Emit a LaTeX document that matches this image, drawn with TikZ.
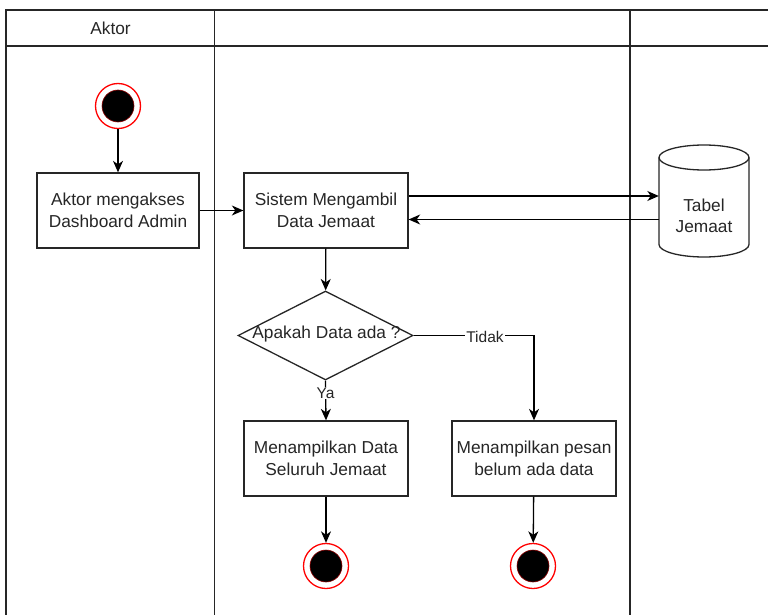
\documentclass[tikz,border=0pt]{standalone}
\usepackage{fontspec}
\setmainfont{Liberation Sans}
\usetikzlibrary{arrows.meta,shapes.geometric,calc}

\tikzset{
  lane/.style={line width=1.4pt, draw=black!85},
  act/.style={draw=black!85, line width=1.3pt, fill=white, minimum width=164pt,
    minimum height=75pt, align=center, inner sep=0pt, text=black!85,
    font=\fontsize{17.3}{21.5}\selectfont},
  final/.style={circle, draw=red, line width=1.3pt, fill=white, minimum size=45pt,
    inner sep=0pt,
    path picture={\fill[black, draw=red!55!black, line width=0.6pt]
      (path picture bounding box.center) circle (16pt);}},
  flow/.style={draw=black, line width=1.3pt,
    -{Stealth[length=11.5pt, width=10pt, inset=3.5pt]}},
  guard/.style={fill=white, inner sep=1pt, text=black!85,
    font=\fontsize{15.5}{18}\selectfont},
  txt/.style={text=black!85, align=center, font=\fontsize{17.3}{21.5}\selectfont}
}

\begin{document}
\begin{tikzpicture}[x=1pt, y=-1pt]
  \useasboundingbox (0,0) rectangle (768,615);
  \clip (0,0) rectangle (768,615);

  % swimlane frame: header row and three lanes
  \draw[lane] (6,10) rectangle (800,650);
  \draw[lane] (6,46) -- (800,46);
  \draw[lane] (214.5,10) -- (214.5,650);
  \draw[lane] (630,10) -- (630,650);
  \node[txt] (hdr) at (110.5,28) {Aktor};

  % activities
  \node[final] (start) at (118,106) {};
  \node[act, minimum width=162pt] (aktor) at (118,210.5) {Aktor mengakses\\Dashboard Admin};
  \node[act] (sistem) at (326,210.5) {Sistem Mengambil\\Data Jemaat};
  \node[diamond, draw=black!85, line width=1.3pt, minimum width=175pt,
        minimum height=89pt, inner sep=0pt] (cek) at (325.5,335.5) {};
  \node[txt] (cektxt) at (326.5,334) {Apakah Data ada ?};
  \node[act] (tampil) at (326,458.5) {Menampilkan Data\\Seluruh Jemaat};
  \node[act] (pesan) at (534,458.5) {Menampilkan pesan\\belum ada data};
  \node[final] (end1) at (326,566) {};
  \node[final] (end2) at (533,566) {};

  % data store cylinder
  \node[minimum width=90pt, minimum height=112pt, inner sep=0pt] (db) at (704,201) {};
  \draw[draw=black!85, line width=1.3pt, fill=white]
    (659,157.5) -- (659,244.5)
    .. controls (659,251.4) and (679.15,257) .. (704,257)
    .. controls (728.85,257) and (749,251.4) .. (749,244.5)
    -- (749,157.5);
  \draw[draw=black!85, line width=1.3pt] (704,157.5) ellipse (45pt and 12.5pt);
  \node[txt] (dbtxt) at (704,216) {Tabel\\Jemaat};

  % control flow
  \draw[flow] (start) -- (aktor);
  \draw[flow] (aktor) -- (sistem);
  \draw[flow] ([yshift=14.5pt]sistem.east) -- ([yshift=14.5pt]sistem.east -| db.west);
  \draw[flow] ([yshift=-9pt]sistem.east -| db.west) -- ([yshift=-9pt]sistem.east);
  \draw[flow] (sistem) -- (cek);
  \draw[flow] (cek.south) -- (tampil.north);
  \draw[flow] (cek.east) -| (pesan.north);
  \draw[flow] (tampil) -- (end1);
  \draw[flow] (pesan) -- (end2);

  % guard labels
  \node[guard] (ya) at (325.5,393) {Ya};
  \node[guard] (tidak) at (485,337) {Tidak};
\end{tikzpicture}
\end{document}
